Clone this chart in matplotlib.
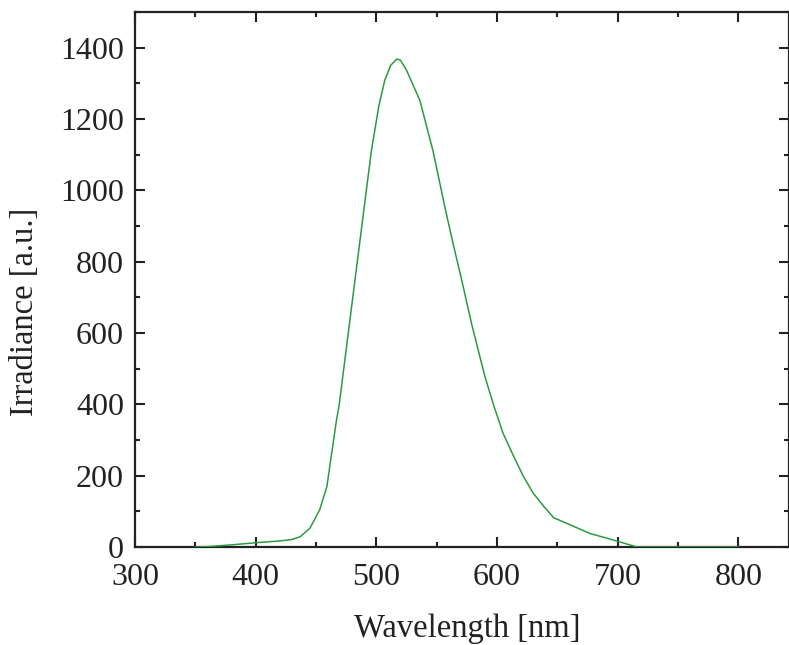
import numpy as np
import matplotlib.pyplot as plt
from matplotlib.ticker import MultipleLocator

# spectrum
wavelength = [350, 360, 380, 400, 420, 430, 437, 445, 453, 459, 463, 467, 469,
              476, 483, 490, 496, 502, 507, 512, 517, 520, 525, 536,
              542, 547, 557, 564, 571, 579, 590, 597, 605, 614, 622, 630, 639,
              647, 658, 677, 699, 716, 760, 800]
irradiance = [0, 1, 6, 12, 17, 21, 29, 53, 104, 169, 263, 356, 393,
              580, 767, 954, 1113, 1235, 1309, 1351, 1368, 1365, 1337, 1253,
              1175, 1110, 950, 845, 745, 625, 478, 400, 319, 253, 197, 151, 113,
              82, 66, 38, 17, 0, 0, 0]

plt.rcParams['font.family'] = ['Liberation Serif', 'DejaVu Serif']

fig = plt.figure(figsize=(7.89, 6.45), dpi=100)
ax = fig.add_axes([135 / 789, 98 / 645, 654 / 789, 535 / 645])

ax.plot(wavelength, irradiance, color='#2a9a40', linewidth=1.1, zorder=3)

ax.set_xlim(300, 842)
ax.set_ylim(0, 1500)
ax.xaxis.set_major_locator(MultipleLocator(100))
ax.xaxis.set_minor_locator(MultipleLocator(50))
ax.yaxis.set_major_locator(MultipleLocator(200))
ax.yaxis.set_minor_locator(MultipleLocator(100))

ax.tick_params(which='both', direction='in', top=True, right=True, width=1.5,
               labelsize=23, colors='#222222')
ax.tick_params(which='major', length=7)
ax.tick_params(which='minor', length=3.5)
ax.tick_params(axis='x', pad=11.5)
ax.tick_params(axis='y', pad=8)
for s in ax.spines.values():
    s.set_linewidth(1.6)
    s.set_color('#222222')

ax.set_xlabel('Wavelength [nm]', fontsize=23.5, color='#222222')
ax.set_ylabel('Irradiance [a.u.]', fontsize=23.5, color='#222222')
ax.xaxis.set_label_coords(0.508, -0.125)
ax.yaxis.set_label_coords(-0.145, 0.44)

fig.savefig('out.png', dpi=100)
